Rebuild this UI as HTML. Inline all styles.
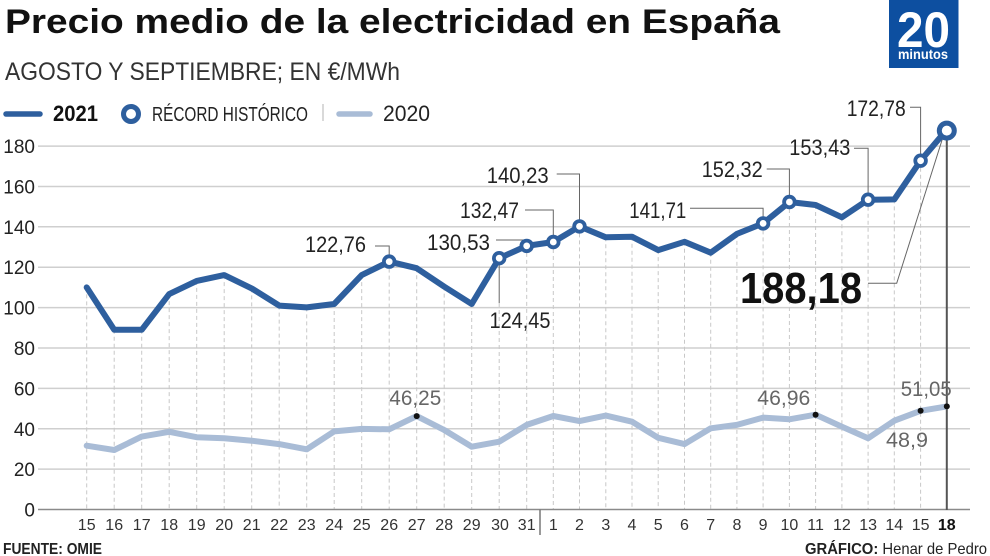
<!DOCTYPE html>
<html><head><meta charset="utf-8">
<style>
html,body{margin:0;padding:0;background:#fff;}
svg{display:block;}
text{font-family:"Liberation Sans Narrow","Liberation Sans",sans-serif;}
</style></head>
<body>
<svg width="990" height="556" viewBox="0 0 990 556" xmlns="http://www.w3.org/2000/svg">
<rect width="990" height="556" fill="#fff"/>
<!-- Title -->
<text x="5" y="33" font-size="34" font-weight="bold" fill="#111" textLength="775" lengthAdjust="spacingAndGlyphs">Precio medio de la electricidad en España</text>
<text x="5" y="80" font-size="25" fill="#333" textLength="395" lengthAdjust="spacingAndGlyphs">AGOSTO Y SEPTIEMBRE; EN €/MWh</text>
<!-- Logo -->
<rect x="889" y="0" width="69.5" height="68" fill="#0d4fa0"/>
<text x="897" y="47" font-size="50" font-weight="bold" fill="#fff" textLength="53" lengthAdjust="spacingAndGlyphs">20</text>
<text x="898" y="59" font-size="14" font-weight="bold" fill="#fff" textLength="50" lengthAdjust="spacingAndGlyphs">minutos</text>
<!-- Legend -->
<line x1="6" y1="114" x2="40" y2="114" stroke="#2e5f9e" stroke-width="5.5" stroke-linecap="round"/>
<text x="53" y="121" font-size="22" font-weight="bold" fill="#111" textLength="45" lengthAdjust="spacingAndGlyphs">2021</text>
<circle cx="131" cy="114" r="7.5" fill="#fff" stroke="#2e5f9e" stroke-width="5"/>
<text x="152" y="121" font-size="20" fill="#222" textLength="156" lengthAdjust="spacingAndGlyphs">RÉCORD HISTÓRICO</text>
<line x1="323" y1="104" x2="323" y2="121" stroke="#ccc" stroke-width="1.5"/>
<line x1="339" y1="114" x2="370" y2="114" stroke="#a9bcd6" stroke-width="5.5" stroke-linecap="round"/>
<text x="383" y="121" font-size="22" fill="#222" textLength="47" lengthAdjust="spacingAndGlyphs">2020</text>
<!-- Gridlines -->
<g stroke="#cfcfcf" stroke-width="1.5">
<line x1="38" y1="146.1" x2="970" y2="146.1"/>
<line x1="38" y1="186.5" x2="970" y2="186.5"/>
<line x1="38" y1="226.8" x2="970" y2="226.8"/>
<line x1="38" y1="267.2" x2="970" y2="267.2"/>
<line x1="38" y1="307.6" x2="970" y2="307.6"/>
<line x1="38" y1="348.0" x2="970" y2="348.0"/>
<line x1="38" y1="388.4" x2="970" y2="388.4"/>
<line x1="38" y1="428.7" x2="970" y2="428.7"/>
<line x1="38" y1="469.1" x2="970" y2="469.1"/>
</g>
<!-- Y labels -->
<g font-size="19" fill="#222" text-anchor="end">
<text x="35" y="153">180</text>
<text x="35" y="193.5">160</text>
<text x="35" y="234">140</text>
<text x="35" y="274">120</text>
<text x="35" y="314.5">100</text>
<text x="35" y="355">80</text>
<text x="35" y="395.5">60</text>
<text x="35" y="436">40</text>
<text x="35" y="476">20</text>
<text x="35" y="516.5">0</text>
</g>
<!-- Drop lines -->
<g stroke="#c8c8c8" stroke-width="1" stroke-dasharray="4 3">
<line x1="86.7" y1="287.4" x2="86.7" y2="509"/>
<line x1="114.2" y1="329.8" x2="114.2" y2="509"/>
<line x1="141.7" y1="329.8" x2="141.7" y2="509"/>
<line x1="169.2" y1="294.1" x2="169.2" y2="509"/>
<line x1="196.7" y1="280.9" x2="196.7" y2="509"/>
<line x1="224.2" y1="275.1" x2="224.2" y2="509"/>
<line x1="251.7" y1="288.4" x2="251.7" y2="509"/>
<line x1="279.2" y1="305.6" x2="279.2" y2="509"/>
<line x1="306.7" y1="307.4" x2="306.7" y2="509"/>
<line x1="334.2" y1="304.0" x2="334.2" y2="509"/>
<line x1="361.7" y1="275.1" x2="361.7" y2="509"/>
<line x1="389.2" y1="261.6" x2="389.2" y2="509"/>
<line x1="416.7" y1="268.2" x2="416.7" y2="509"/>
<line x1="444.2" y1="286.6" x2="444.2" y2="509"/>
<line x1="471.7" y1="304.0" x2="471.7" y2="509"/>
<line x1="499.2" y1="303" x2="499.2" y2="509"/>
<line x1="526.7" y1="245.9" x2="526.7" y2="509"/>
<line x1="553.3" y1="242.0" x2="553.3" y2="509"/>
<line x1="579.5" y1="226.4" x2="579.5" y2="509"/>
<line x1="605.8" y1="237.3" x2="605.8" y2="509"/>
<line x1="632.0" y1="236.7" x2="632.0" y2="509"/>
<line x1="658.2" y1="250.1" x2="658.2" y2="509"/>
<line x1="684.5" y1="241.8" x2="684.5" y2="509"/>
<line x1="710.7" y1="252.7" x2="710.7" y2="509"/>
<line x1="736.9" y1="233.9" x2="736.9" y2="509"/>
<line x1="763.1" y1="223.4" x2="763.1" y2="509"/>
<line x1="789.4" y1="202.0" x2="789.4" y2="509"/>
<line x1="815.6" y1="205.0" x2="815.6" y2="509"/>
<line x1="841.9" y1="217.3" x2="841.9" y2="509"/>
<line x1="868.1" y1="199.7" x2="868.1" y2="509"/>
<line x1="894.3" y1="199.4" x2="894.3" y2="509"/>
<line x1="920.6" y1="160.7" x2="920.6" y2="509"/>
</g>
<!-- Axis -->
<line x1="38" y1="509.5" x2="970" y2="509.5" stroke="#8a8a8a" stroke-width="1.5"/>
<line x1="540" y1="509.5" x2="540" y2="535" stroke="#777" stroke-width="1.5"/>
<!-- record vertical line -->
<line x1="946.8" y1="130" x2="946.8" y2="510" stroke="#555" stroke-width="2"/>
<!-- 2020 series -->
<polyline fill="none" stroke="#a9bcd6" stroke-width="6" stroke-linejoin="round" stroke-linecap="round" points="86.7,445.7 114.2,450.0 141.7,436.6 169.2,431.8 196.7,437.2 224.2,438.2 251.7,440.7 279.2,444.1 306.7,449.3 334.2,431.4 361.7,428.9 389.2,429.3 416.7,416.1 444.2,430.0 471.7,446.7 499.2,441.7 526.7,424.9 553.3,416.0 579.5,421.1 605.8,415.6 632.0,421.7 658.2,437.8 684.5,444.1 710.7,428.3 736.9,424.9 763.1,417.6 789.4,419.3 815.6,414.7 841.9,426.7 868.1,438.2 894.3,420.7 920.6,410.8 946.8,406.4"/>
<g fill="#111">
<circle cx="416.7" cy="416.1" r="3"/>
<circle cx="815.6" cy="414.7" r="3"/>
<circle cx="920.6" cy="410.8" r="3"/>
<circle cx="946.8" cy="406.4" r="3"/>
</g>
<g font-size="21" fill="#666">
<text x="389.3" y="405" textLength="52" lengthAdjust="spacingAndGlyphs">46,25</text>
<text x="757.3" y="405" textLength="53" lengthAdjust="spacingAndGlyphs">46,96</text>
<text x="900.7" y="396" textLength="51" lengthAdjust="spacingAndGlyphs">51,05</text>
<text x="886" y="447" textLength="42" lengthAdjust="spacingAndGlyphs">48,9</text>
</g>
<!-- Leader lines -->
<g fill="none" stroke="#666" stroke-width="1">
<path d="M375 246 H389.2 V256"/>
<path d="M496 240 H526.7 V242"/>
<path d="M499.2 262 V303"/>
<path d="M525 210 H553.3 V236"/>
<path d="M556.7 174 H579.5 V220"/>
<path d="M690 208.3 H763.1 V217"/>
<path d="M766.7 169 H789.4 V196"/>
<path d="M854 148.3 H868.1 V193"/>
<path d="M910 107.3 H920.6 V154"/>
<path d="M868 283.3 H896.7 L943 137"/>
</g>
<!-- 2021 series -->
<polyline fill="none" stroke="#2e5f9e" stroke-width="6" stroke-linejoin="round" stroke-linecap="round" points="86.7,287.4 114.2,329.8 141.7,329.8 169.2,294.1 196.7,280.9 224.2,275.1 251.7,288.4 279.2,305.6 306.7,307.4 334.2,304.0 361.7,275.1 389.2,261.6 416.7,268.2 444.2,286.6 471.7,304.0 499.2,258.2 526.7,245.9 553.3,242.0 579.5,226.4 605.8,237.3 632.0,236.7 658.2,250.1 684.5,241.8 710.7,252.7 736.9,233.9 763.1,223.4 789.4,202.0 815.6,205.0 841.9,217.3 868.1,199.7 894.3,199.4 920.6,160.7 946.8,129.6"/>
<g fill="#fff" stroke="#2e5f9e" stroke-width="3.8">
<circle cx="389.2" cy="261.6" r="5.3"/>
<circle cx="499.2" cy="258.2" r="5.3"/>
<circle cx="526.7" cy="245.9" r="5.3"/>
<circle cx="553.3" cy="242.0" r="5.3"/>
<circle cx="579.5" cy="226.4" r="5.3"/>
<circle cx="763.1" cy="223.4" r="5.3"/>
<circle cx="789.4" cy="202.0" r="5.3"/>
<circle cx="868.1" cy="199.7" r="5.3"/>
<circle cx="920.6" cy="160.7" r="5.3"/>
</g>
<circle cx="946.8" cy="130.6" r="7.5" fill="#fff" stroke="#2e5f9e" stroke-width="5"/>
<!-- annotations 2021 -->
<g font-size="22" fill="#222">
<text x="305" y="252" textLength="61" lengthAdjust="spacingAndGlyphs">122,76</text>
<text x="427" y="250" textLength="63" lengthAdjust="spacingAndGlyphs">130,53</text>
<text x="489.5" y="328" textLength="61" lengthAdjust="spacingAndGlyphs">124,45</text>
<text x="460" y="218" textLength="59" lengthAdjust="spacingAndGlyphs">132,47</text>
<text x="486.7" y="183" textLength="62" lengthAdjust="spacingAndGlyphs">140,23</text>
<text x="629.3" y="218" textLength="57" lengthAdjust="spacingAndGlyphs">141,71</text>
<text x="701.7" y="177" textLength="61" lengthAdjust="spacingAndGlyphs">152,32</text>
<text x="789.3" y="155" textLength="61" lengthAdjust="spacingAndGlyphs">153,43</text>
<text x="846.7" y="116" textLength="59" lengthAdjust="spacingAndGlyphs">172,78</text>
</g>
<text x="740" y="303" font-size="44" font-weight="bold" fill="#111" textLength="122" lengthAdjust="spacingAndGlyphs">188,18</text>
<!-- X labels -->
<g font-size="16" fill="#333" text-anchor="middle">
<text x="86.7" y="530">15</text>
<text x="114.2" y="530">16</text>
<text x="141.7" y="530">17</text>
<text x="169.2" y="530">18</text>
<text x="196.7" y="530">19</text>
<text x="224.2" y="530">20</text>
<text x="251.7" y="530">21</text>
<text x="279.2" y="530">22</text>
<text x="306.7" y="530">23</text>
<text x="334.2" y="530">24</text>
<text x="361.7" y="530">25</text>
<text x="389.2" y="530">26</text>
<text x="416.7" y="530">27</text>
<text x="444.2" y="530">28</text>
<text x="471.7" y="530">29</text>
<text x="500" y="530">30</text>
<text x="526.7" y="530">31</text>
<text x="553.3" y="530">1</text>
<text x="579.5" y="530">2</text>
<text x="605.8" y="530">3</text>
<text x="632.0" y="530">4</text>
<text x="658.2" y="530">5</text>
<text x="684.5" y="530">6</text>
<text x="710.7" y="530">7</text>
<text x="736.9" y="530">8</text>
<text x="763.1" y="530">9</text>
<text x="789.4" y="530">10</text>
<text x="815.6" y="530">11</text>
<text x="841.9" y="530">12</text>
<text x="868.1" y="530">13</text>
<text x="894.3" y="530">14</text>
<text x="920.6" y="530">15</text>
<text x="946.8" y="530" font-weight="bold" fill="#111">18</text>
</g>
<!-- Footer -->
<text x="3" y="554" font-size="16" font-weight="bold" fill="#222" textLength="99" lengthAdjust="spacingAndGlyphs">FUENTE: OMIE</text>
<text x="805" y="554" font-size="16" fill="#222" textLength="182" lengthAdjust="spacingAndGlyphs"><tspan font-weight="bold">GRÁFICO:</tspan> Henar de Pedro</text>
</svg>
</body></html>
